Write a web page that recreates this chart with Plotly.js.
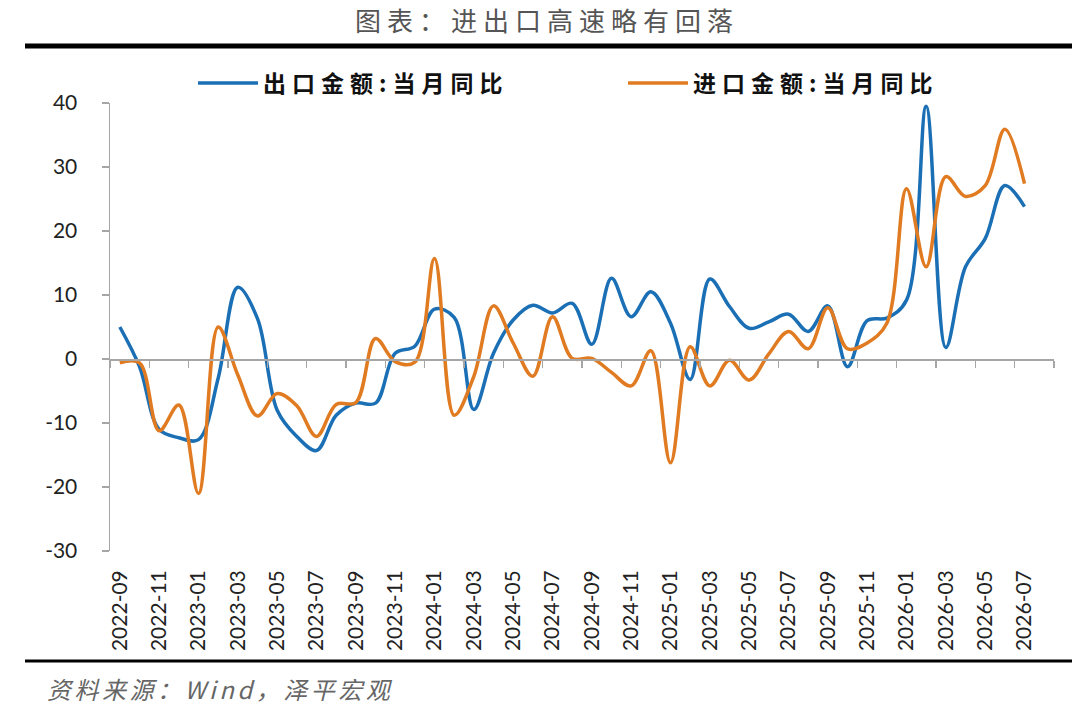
<!DOCTYPE html>
<html>
<head>
<meta charset="utf-8">
<script src="https://cdn.plot.ly/plotly-3.0.1.min.js"></script>
<style>
  body { margin: 0; background: #fff; }
  #chart { width: 1080px; height: 710px; }
  .gtitle { letter-spacing: 6px; }
  .legendtext, .legend2text { letter-spacing: 6px; }
  .annotation-text { letter-spacing: 3.5px; }
</style>
</head>
<body>
<div id="chart"></div>
<script>
// 月份（横轴类别，最后一个月无数据）
var months = [
  '2022-09','2022-10','2022-11','2022-12','2023-01','2023-02','2023-03','2023-04',
  '2023-05','2023-06','2023-07','2023-08','2023-09','2023-10','2023-11','2023-12',
  '2024-01','2024-02','2024-03','2024-04','2024-05','2024-06','2024-07','2024-08',
  '2024-09','2024-10','2024-11','2024-12','2025-01','2025-02','2025-03','2025-04',
  '2025-05','2025-06','2025-07','2025-08','2025-09','2025-10','2025-11','2025-12',
  '2026-01','2026-02','2026-03','2026-04','2026-05','2026-06','2026-07','2026-08'
];

var tickLabels = [
  '2022-09','2022-11','2023-01','2023-03','2023-05','2023-07','2023-09','2023-11',
  '2024-01','2024-03','2024-05','2024-07','2024-09','2024-11','2025-01','2025-03',
  '2025-05','2025-07','2025-09','2025-11','2026-01','2026-03','2026-05','2026-07'
];

var yTickVals = [-30, -20, -10, 0, 10, 20, 30, 40];
var yTickText = ['-30', '-20', '-10', '0', '10', '20', '30', '40'];

// 出口金额:当月同比 (%)
var exportYoy = [
  5.0, -1.2, -11.0, -12.3, -12.6, -3.0, 11.2, 6.3,
  -8.0, -12.1, -14.3, -8.8, -6.9, -6.9, 0.9, 2.0,
  7.8, 6.5, -7.9, 0.9, 6.1, 8.4, 7.2, 8.7,
  2.3, 12.6, 6.6, 10.5, 5.6, -3.2, 12.5, 8.2,
  4.8, 5.8, 7.0, 4.3, 8.3, -1.2, 6.0, 6.4,
  9.2, 39.5, 1.8, 14.4, 18.8, 27.1, 23.8
];

// 进口金额:当月同比 (%)
var importYoy = [
  -0.6, -0.6, -11.2, -7.2, -21.0, 5.0, -2.5, -8.9,
  -5.4, -7.3, -12.1, -7.1, -6.8, 3.2, -0.4, -0.5,
  15.7, -8.8, -2.7, 8.3, 2.5, -2.7, 6.6, 0.1,
  0.1, -2.1, -4.2, 1.3, -16.2, 1.9, -4.2, -0.2,
  -3.3, 0.8, 4.3, 1.6, 8.0, 1.6, 2.5, 5.6,
  26.6, 14.4, 28.5, 25.4, 27.1, 35.9, 27.4
];

var W = 1080, H = 710;
var M = { l: 110, r: 26, t: 103, b: 159 };
var plotW = W - M.l - M.r, plotH = H - M.t - M.b;
function px2x(px) { return (px - M.l) / plotW; }
function py2y(py) { return (H - M.b - py) / plotH; }

var yMin = -30, yMax = 40;
var axisGray = '#a6a6a6';
var cjk = "'Noto Sans CJK SC', 'Noto Sans', sans-serif";
var latin = "Lato, 'Open Sans', sans-serif";

// 类别边界处的刻度（每两个月一个）
var boundaryTicks = [];
for (var i = 0; i <= months.length; i += 2) boundaryTicks.push(i - 0.5);

var legendFont = { family: cjk, size: 23, weight: 'bold', color: '#111' };

var data = [
  {
    x: months.slice(0, exportYoy.length),
    y: exportYoy,
    name: '出口金额:当月同比',
    legend: 'legend',
    type: 'scatter',
    mode: 'lines',
    line: { color: '#1b6fb5', width: 3.5, shape: 'spline', smoothing: 1 }
  },
  {
    x: months.slice(0, importYoy.length),
    y: importYoy,
    name: '进口金额:当月同比',
    legend: 'legend2',
    type: 'scatter',
    mode: 'lines',
    line: { color: '#e07b22', width: 3.5, shape: 'spline', smoothing: 1 }
  },
  {
    x: [], y: [], xaxis: 'x2', yaxis: 'y',
    type: 'scatter', mode: 'lines', showlegend: false, hoverinfo: 'skip'
  }
];

var layout = {
  width: W,
  height: H,
  margin: M,
  paper_bgcolor: '#fff',
  plot_bgcolor: '#fff',
  showlegend: true,
  title: {
    text: '图表：进出口高速略有回落',
    xref: 'container', yref: 'container',
    x: 547 / W, xanchor: 'center',
    y: 1 - 22 / H, yanchor: 'middle',
    font: { family: cjk, size: 26, color: '#555' }
  },
  legend: {
    orientation: 'h',
    x: px2x(193), xanchor: 'left',
    y: py2y(83), yanchor: 'middle',
    itemwidth: 60,
    bgcolor: 'rgba(0,0,0,0)',
    font: legendFont
  },
  legend2: {
    orientation: 'h',
    x: px2x(623), xanchor: 'left',
    y: py2y(83), yanchor: 'middle',
    itemwidth: 60,
    bgcolor: 'rgba(0,0,0,0)',
    font: legendFont
  },
  xaxis: {
    type: 'category',
    categoryorder: 'array',
    categoryarray: months,
    range: [-0.5, months.length - 0.5],
    tickmode: 'array',
    tickvals: tickLabels,
    ticktext: tickLabels,
    tickangle: -90,
    ticks: '',
    ticklabelstandoff: 14,
    showline: false,
    showgrid: false,
    zeroline: false,
    tickfont: { family: latin, size: 21, color: '#222' }
  },
  xaxis2: {
    overlaying: 'x',
    anchor: 'free',
    position: (0 - yMin) / (yMax - yMin),
    side: 'bottom',
    range: [-0.5, months.length - 0.5],
    tickmode: 'array',
    tickvals: boundaryTicks,
    ticks: 'outside',
    ticklen: 7,
    tickwidth: 1.5,
    tickcolor: axisGray,
    showticklabels: false,
    showline: true,
    linecolor: axisGray,
    linewidth: 1.5,
    showgrid: false,
    zeroline: false
  },
  yaxis: {
    range: [yMin, yMax],
    tickmode: 'array',
    tickvals: yTickVals,
    ticktext: yTickText,
    ticks: 'outside',
    ticklen: 7,
    tickwidth: 1.5,
    tickcolor: axisGray,
    ticklabelstandoff: 20,
    showline: true,
    linecolor: axisGray,
    linewidth: 1.5,
    showgrid: false,
    zeroline: false,
    tickfont: { family: latin, size: 21, color: '#222' }
  },
  shapes: [
    {
      type: 'line', xref: 'paper', yref: 'paper',
      x0: px2x(25), x1: px2x(1072), y0: py2y(46), y1: py2y(46),
      line: { color: '#000', width: 5 }
    },
    {
      type: 'line', xref: 'paper', yref: 'paper',
      x0: px2x(25), x1: px2x(1072), y0: py2y(661), y1: py2y(661),
      line: { color: '#000', width: 3 }
    }
  ],
  annotations: [
    {
      text: '资料来源：Wind，泽平宏观',
      xref: 'paper', yref: 'paper',
      x: px2x(45), xanchor: 'left',
      y: py2y(688), yanchor: 'middle',
      showarrow: false,
      font: { family: cjk, size: 24, color: '#666', style: 'italic' }
    }
  ]
};

Plotly.newPlot('chart', data, layout, { displayModeBar: false, staticPlot: true });
</script>
</body>
</html>
